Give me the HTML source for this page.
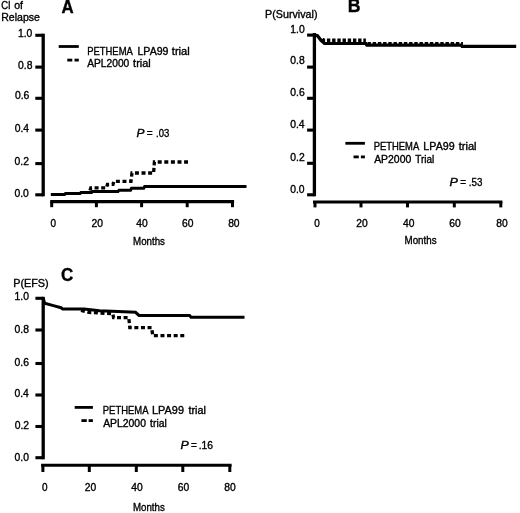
<!DOCTYPE html>
<html><head><meta charset="utf-8"><title>Figure</title>
<style>
html,body{margin:0;padding:0;background:#fff;}
svg{display:block;filter:blur(0.35px);}
text{font-family:"Liberation Sans",Arial,sans-serif;fill:#000;stroke:#000;stroke-width:0.35px;}
</style></head>
<body>
<svg width="520" height="513" viewBox="0 0 520 513">
<rect width="520" height="513" fill="#fff"/>
<g stroke="#000" fill="none" stroke-linejoin="miter">
<line x1="43.2" y1="33.7" x2="43.2" y2="196.3" stroke-width="3.3" />
<line x1="35.3" y1="35.3" x2="43.2" y2="35.3" stroke-width="3.1" />
<line x1="35.3" y1="67.1" x2="43.2" y2="67.1" stroke-width="3.1" />
<line x1="35.3" y1="98.3" x2="43.2" y2="98.3" stroke-width="3.1" />
<line x1="35.3" y1="130.1" x2="43.2" y2="130.1" stroke-width="3.1" />
<line x1="35.3" y1="163.6" x2="43.2" y2="163.6" stroke-width="3.1" />
<line x1="35.3" y1="194.8" x2="43.2" y2="194.8" stroke-width="3.1" />
<line x1="50.2" y1="201.6" x2="234.1" y2="201.6" stroke-width="3.1" />
<line x1="51.7" y1="201.6" x2="51.7" y2="207.2" stroke-width="3" />
<line x1="96.4" y1="201.6" x2="96.4" y2="207.2" stroke-width="3" />
<line x1="141.6" y1="201.6" x2="141.6" y2="207.2" stroke-width="3" />
<line x1="187.2" y1="201.6" x2="187.2" y2="207.2" stroke-width="3" />
<line x1="232.5" y1="201.6" x2="232.5" y2="207.2" stroke-width="3" />
<line x1="58.7" y1="46.5" x2="78.8" y2="46.5" stroke-width="2.8" />
<line x1="67.3" y1="60.1" x2="72.3" y2="60.1" stroke-width="2.8" />
<line x1="74.5" y1="60.1" x2="78.8" y2="60.1" stroke-width="2.8" />
<path d="M50.8 194.6 L64.5 194.6 L65.5 193.6 L80 193.6 L81 192.6 L91.5 192.6 L92.5 191.5 L118 191.5 L119 190.3 L130.5 190.3 L131.5 188.2 L143.7 188.2 L144.7 186.5 L246.5 186.5" stroke-width="3"/>
<path d="M90 190.5 L90.8 187.8 L106.6 187.8 L107.4 184.4 L113 184.4 L113.8 181.3 L131 181.3 L132 173 L153.6 173 L154.4 162 L188 162" stroke-width="3.3" stroke-dasharray="4 2.6"/>
<line x1="314.4" y1="33.1" x2="314.4" y2="196.3" stroke-width="3.3" />
<line x1="307.1" y1="35.1" x2="314.4" y2="35.1" stroke-width="3.1" />
<line x1="307.1" y1="67.1" x2="314.4" y2="67.1" stroke-width="3.1" />
<line x1="307.1" y1="98.3" x2="314.4" y2="98.3" stroke-width="3.1" />
<line x1="307.1" y1="130.1" x2="314.4" y2="130.1" stroke-width="3.1" />
<line x1="307.1" y1="163.3" x2="314.4" y2="163.3" stroke-width="3.1" />
<line x1="307.1" y1="194.8" x2="314.4" y2="194.8" stroke-width="3.1" />
<line x1="313" y1="202" x2="502.4" y2="202" stroke-width="3.1" />
<line x1="315" y1="202" x2="315" y2="207.4" stroke-width="3" />
<line x1="361" y1="202" x2="361" y2="207.4" stroke-width="3" />
<line x1="407.5" y1="202" x2="407.5" y2="207.4" stroke-width="3" />
<line x1="454.3" y1="202" x2="454.3" y2="207.4" stroke-width="3" />
<line x1="500.8" y1="202" x2="500.8" y2="207.4" stroke-width="3" />
<line x1="345.4" y1="143.3" x2="364.9" y2="143.3" stroke-width="2.8" />
<line x1="353.5" y1="156.9" x2="358.8" y2="156.9" stroke-width="2.8" />
<line x1="360.9" y1="156.9" x2="364.9" y2="156.9" stroke-width="2.8" />
<path d="M314.4 35.1 L317.5 35.8 L321 40.3 L324.5 43.5 L365.8 43.5 L366.8 45.1 L461 45.1 L462 46.3 L516.2 46.3" stroke-width="3.2"/>
<path d="M322.3 39 L323.5 40.3 L365.9 40.3" stroke-width="3.4" stroke-dasharray="3.4 1.8"/>
<path d="M367.5 43.4 L463 43.4" stroke-width="2.6" stroke-dasharray="3.4 1.8"/>
<line x1="43.2" y1="296.8" x2="43.2" y2="459.3" stroke-width="3.3" />
<line x1="35.4" y1="298.3" x2="43.2" y2="298.3" stroke-width="3.1" />
<line x1="35.4" y1="330" x2="43.2" y2="330" stroke-width="3.1" />
<line x1="35.4" y1="363.5" x2="43.2" y2="363.5" stroke-width="3.1" />
<line x1="35.4" y1="395" x2="43.2" y2="395" stroke-width="3.1" />
<line x1="35.4" y1="426.5" x2="43.2" y2="426.5" stroke-width="3.1" />
<line x1="35.4" y1="457.7" x2="43.2" y2="457.7" stroke-width="3.1" />
<line x1="41.1" y1="465.2" x2="231.6" y2="465.2" stroke-width="3.1" />
<line x1="42.9" y1="465.2" x2="42.9" y2="472" stroke-width="3" />
<line x1="89.3" y1="465.2" x2="89.3" y2="472" stroke-width="3" />
<line x1="136.3" y1="465.2" x2="136.3" y2="472" stroke-width="3" />
<line x1="182.8" y1="465.2" x2="182.8" y2="472" stroke-width="3" />
<line x1="229.8" y1="465.2" x2="229.8" y2="472" stroke-width="3" />
<line x1="74.7" y1="407.4" x2="92.9" y2="407.4" stroke-width="2.8" />
<line x1="81.4" y1="420.6" x2="86.8" y2="420.6" stroke-width="2.8" />
<line x1="88.6" y1="420.6" x2="92.9" y2="420.6" stroke-width="2.8" />
<path d="M43.3 298.5 L44.6 303.3 L53.4 305.6 L61 307.7 L62.8 309.1 L84 309.1 L99.5 310.8 L118 311.6 L135.5 312.3 L139 315.4 L189.5 315.4 L191 317.3 L244.5 317.3" stroke-width="3"/>
<path d="M81 310.3 L88.8 312.4 L105.7 313.3 L112.8 313.7 L113.6 317.7 L128.8 317.7 L129.8 327.7 L151.6 327.7 L152.8 335.7 L184.5 335.7" stroke-width="3.3" stroke-dasharray="4 2.6"/>
</g>
<g>
<text transform="translate(17.95 36.6) scale(0.9778 1)" font-size="10.6">1.0</text>
<text transform="translate(18.08 69.2) scale(0.9784 1)" font-size="10.6">0.8</text>
<text transform="translate(14.89 99.2) scale(0.9783 1)" font-size="10.6">0.6</text>
<text transform="translate(14.73 132) scale(0.9786 1)" font-size="10.6">0.4</text>
<text transform="translate(14.56 165) scale(0.9782 1)" font-size="10.6">0.2</text>
<text transform="translate(14.44 196.8) scale(0.9784 1)" font-size="10.6">0.0</text>
<text transform="translate(50.53 226.5) scale(0.9408 1)" font-size="10.6">0</text>
<text transform="translate(91.51 226.5) scale(0.9723 1)" font-size="10.6">20</text>
<text transform="translate(136.15 226.5) scale(0.9731 1)" font-size="10.6">40</text>
<text transform="translate(182.01 226.5) scale(0.9723 1)" font-size="10.6">60</text>
<text transform="translate(228.14 226.5) scale(0.9725 1)" font-size="10.6">80</text>
<text transform="translate(133.05 244.8) scale(0.9106 1)" font-size="10.7">Months</text>
<text transform="translate(1.27 8.5) scale(0.9177 1)" font-size="10.3">CI</text>
<text transform="translate(14.31 8.5) scale(1.0156 1)" font-size="10.3">of</text>
<text transform="translate(1.18 20.6) scale(0.9893 1)" font-size="10.7">Relapse</text>
<text transform="translate(61.53 12.6) scale(0.9625 1)" font-size="17.5" font-weight="bold">A</text>
<text transform="translate(136.38 136.5) scale(1.1560 1)" font-size="10.3" font-style="italic">P</text>
<text transform="translate(146.76 136.5) scale(0.9792 1)" font-size="10.3">=</text>
<text transform="translate(155.98 136.5) scale(0.9284 1)" font-size="10.3">.03</text>
<text transform="translate(87.17 55.2) scale(0.9177 1)" font-size="10.3">PETHEMA</text>
<text transform="translate(137.48 55.2) scale(1.0307 1)" font-size="10.3">LPA99</text>
<text transform="translate(171.78 55.2) scale(1.0856 1)" font-size="10.3">trial</text>
<text transform="translate(87.23 66.5) scale(0.9938 1)" font-size="10.3">APL2000</text>
<text transform="translate(133.08 66.5) scale(1.0665 1)" font-size="10.3">trial</text>
<text transform="translate(290.25 32.8) scale(0.9778 1)" font-size="10.6">1.0</text>
<text transform="translate(290.28 64.2) scale(0.9784 1)" font-size="10.6">0.8</text>
<text transform="translate(290.29 96) scale(0.9783 1)" font-size="10.6">0.6</text>
<text transform="translate(290.13 127.6) scale(0.9786 1)" font-size="10.6">0.4</text>
<text transform="translate(290.36 161) scale(0.9782 1)" font-size="10.6">0.2</text>
<text transform="translate(290.24 192.6) scale(0.9784 1)" font-size="10.6">0.0</text>
<text transform="translate(314.23 226.9) scale(0.9408 1)" font-size="10.6">0</text>
<text transform="translate(356.21 226.9) scale(0.9723 1)" font-size="10.6">20</text>
<text transform="translate(403.05 226.9) scale(0.9731 1)" font-size="10.6">40</text>
<text transform="translate(449.21 226.9) scale(0.9723 1)" font-size="10.6">60</text>
<text transform="translate(496.24 226.9) scale(0.9725 1)" font-size="10.6">80</text>
<text transform="translate(404.55 244) scale(0.9135 1)" font-size="10.7">Months</text>
<text transform="translate(265.07 17.6) scale(1.0215 1)" font-size="10.5">P(Survival)</text>
<text transform="translate(347.87 11.9) scale(1.0119 1)" font-size="17.5" font-weight="bold">B</text>
<text transform="translate(449.56 186.3) scale(1.2177 1)" font-size="10.3" font-style="italic">P</text>
<text transform="translate(460.17 186.3) scale(0.9592 1)" font-size="10.3">=</text>
<text transform="translate(468.76 186.3) scale(0.9516 1)" font-size="10.3">.53</text>
<text transform="translate(373.68 150.1) scale(0.9157 1)" font-size="10.3">PETHEMA</text>
<text transform="translate(423.37 150.1) scale(1.0374 1)" font-size="10.3">LPA99</text>
<text transform="translate(458.68 150.1) scale(1.0792 1)" font-size="10.3">trial</text>
<text transform="translate(374.13 163.2) scale(1.0129 1)" font-size="10.3">AP2000</text>
<text transform="translate(415.33 163.2) scale(0.9683 1)" font-size="10.3">Trial</text>
<text transform="translate(14.55 300.3) scale(0.9778 1)" font-size="10.6">1.0</text>
<text transform="translate(14.58 332.5) scale(0.9784 1)" font-size="10.6">0.8</text>
<text transform="translate(14.59 365.5) scale(0.9783 1)" font-size="10.6">0.6</text>
<text transform="translate(14.43 397) scale(0.9786 1)" font-size="10.6">0.4</text>
<text transform="translate(14.66 428.6) scale(0.9782 1)" font-size="10.6">0.2</text>
<text transform="translate(14.54 460.7) scale(0.9784 1)" font-size="10.6">0.0</text>
<text transform="translate(41.93 491.4) scale(0.9408 1)" font-size="10.6">0</text>
<text transform="translate(84.71 491.4) scale(0.9723 1)" font-size="10.6">20</text>
<text transform="translate(131.35 491.4) scale(0.9731 1)" font-size="10.6">40</text>
<text transform="translate(177.71 491.4) scale(0.9723 1)" font-size="10.6">60</text>
<text transform="translate(224.24 491.4) scale(0.9725 1)" font-size="10.6">80</text>
<text transform="translate(132.95 510.8) scale(0.9076 1)" font-size="10.7">Months</text>
<text transform="translate(13.26 287.3) scale(1.0302 1)" font-size="10.5">P(EFS)</text>
<text transform="translate(61.05 280.8) scale(0.9701 1)" font-size="17.5" font-weight="bold">C</text>
<text transform="translate(180.57 448.6) scale(1.2023 1)" font-size="10.3" font-style="italic">P</text>
<text transform="translate(191.06 448.6) scale(0.9792 1)" font-size="10.3">=</text>
<text transform="translate(198.71 448.6) scale(0.9980 1)" font-size="10.3">.16</text>
<text transform="translate(102.77 414.3) scale(0.9198 1)" font-size="10.3">PETHEMA</text>
<text transform="translate(152.06 414.3) scale(1.0577 1)" font-size="10.3">LPA99</text>
<text transform="translate(188.49 414.3) scale(1.0475 1)" font-size="10.3">trial</text>
<text transform="translate(103.13 427.2) scale(1.0105 1)" font-size="10.3">APL2000</text>
<text transform="translate(150.09 427.2) scale(1.0031 1)" font-size="10.3">trial</text>
</g>
</svg>
</body></html>
